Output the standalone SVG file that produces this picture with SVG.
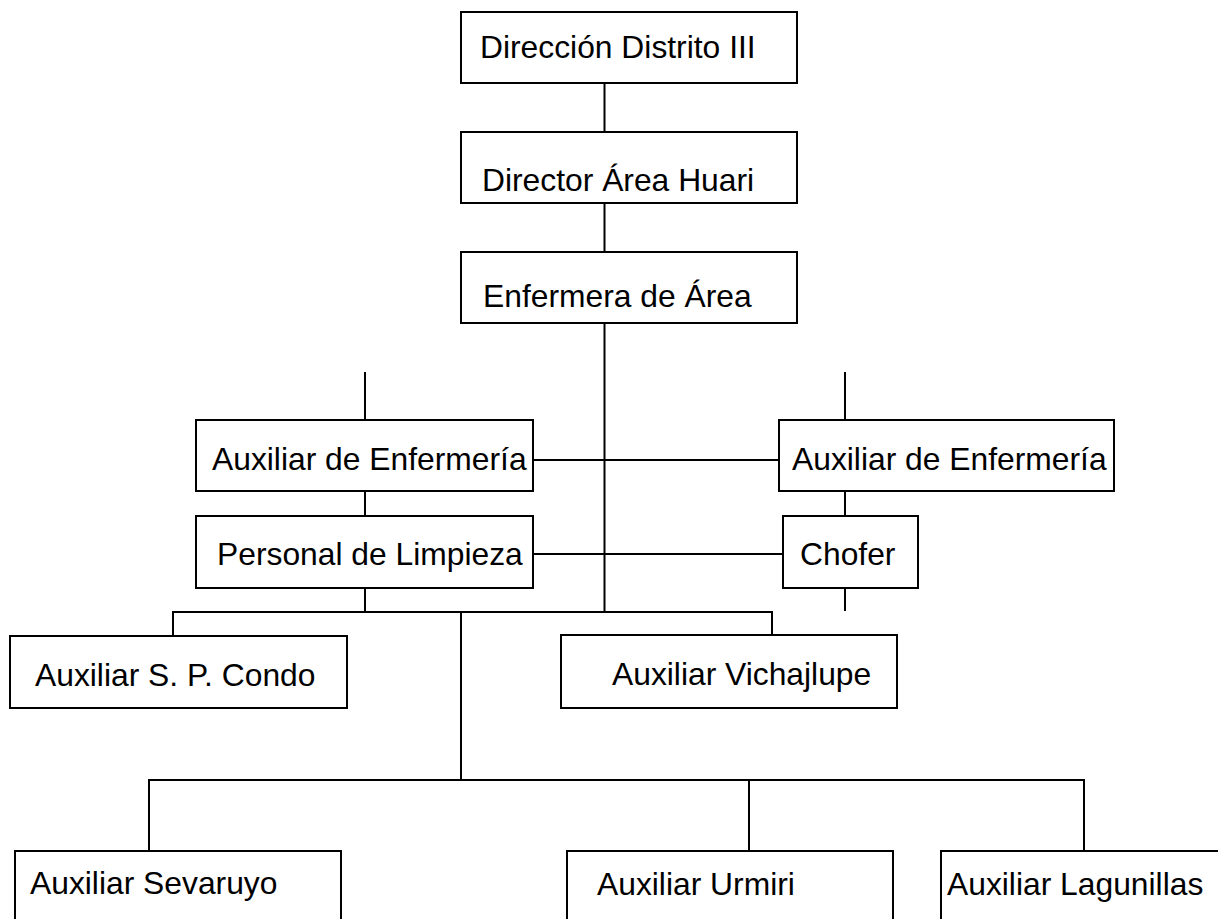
<svg xmlns="http://www.w3.org/2000/svg" width="1218" height="919" viewBox="0 0 1218 919">
<style>
.box{fill:#fff;stroke:#000;stroke-width:2}
.t{font-family:"Liberation Sans",Arial,sans-serif;font-size:31.8px;fill:#000}
.c{stroke:#000;stroke-width:2;fill:none}
</style>
<rect width="1218" height="919" fill="#fff"/>
<g id="connectors" class="c">
<path d="M604.5 83V132M604.5 203V252M604.5 323V612"/>
<path d="M365 372V420M365 491V516M365 588V612"/>
<path d="M845 372V420M845 491V516M845 588V611"/>
<path d="M533 460H779M533 554H783"/>
<path d="M173 612H772M173 611V636M772 611V635"/>
<path d="M461 612V780M149 780H1084M149 779V851M749 780V851M1084 779V851"/>
</g>
<g id="n1"><rect class="box" x="461" y="12" width="336" height="71"/><text class="t" x="480" y="58">Dirección Distrito III</text></g>
<g id="n2"><rect class="box" x="461" y="132" width="336" height="71"/><text class="t" x="482" y="191">Director Área Huari</text></g>
<g id="n3"><rect class="box" x="461" y="252" width="336" height="71"/><text class="t" x="483" y="307">Enfermera de Área</text></g>
<g id="n4"><rect class="box" x="196" y="420" width="337" height="71"/><text class="t" x="212" y="470">Auxiliar de Enfermería</text></g>
<g id="n5"><rect class="box" x="196" y="516" width="337" height="72"/><text class="t" x="217" y="565">Personal de Limpieza</text></g>
<g id="n6"><rect class="box" x="779" y="420" width="335" height="71"/><text class="t" x="792" y="470">Auxiliar de Enfermería</text></g>
<g id="n7"><rect class="box" x="783" y="516" width="135" height="72"/><text class="t" x="800" y="565">Chofer</text></g>
<g id="n8"><rect class="box" x="10" y="636" width="337" height="72"/><text class="t" x="35" y="686">Auxiliar S. P. Condo</text></g>
<g id="n9"><rect class="box" x="561" y="635" width="336" height="73"/><text class="t" x="612" y="685">Auxiliar Vichajlupe</text></g>
<g id="n10"><rect class="box" x="15" y="851" width="326" height="80"/><text class="t" x="30" y="894">Auxiliar Sevaruyo</text></g>
<g id="n11"><rect class="box" x="567" y="851" width="326" height="80"/><text class="t" x="597" y="895">Auxiliar Urmiri</text></g>
<g id="n12"><rect class="box" x="941" y="851" width="290" height="80"/><text class="t" x="947" y="895">Auxiliar Lagunillas</text></g>
</svg>
